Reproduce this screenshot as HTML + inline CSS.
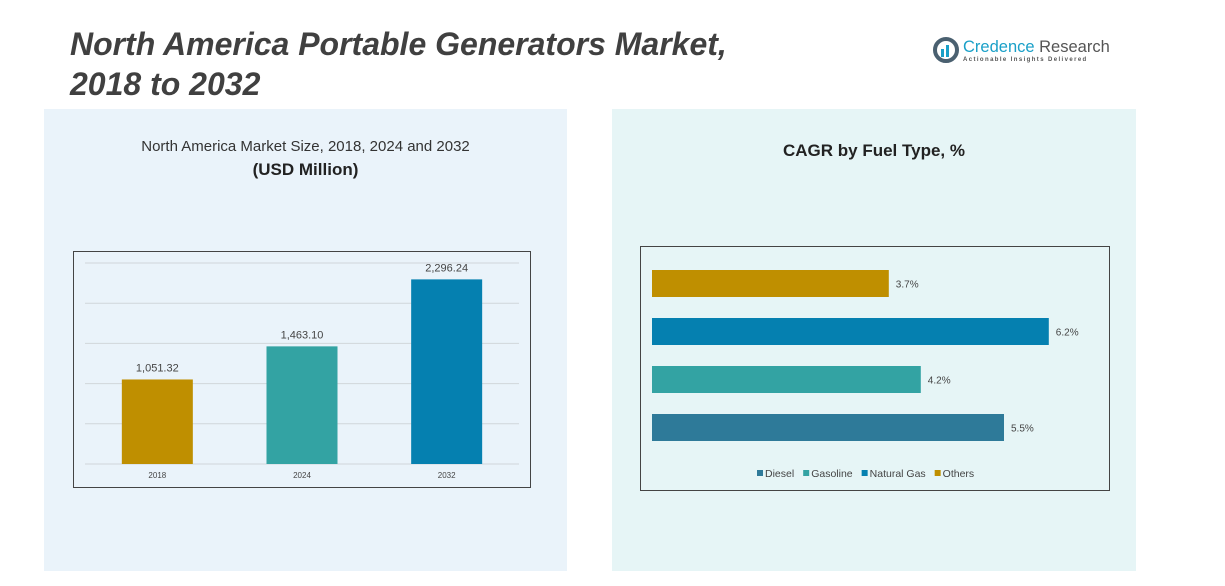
<!DOCTYPE html>
<html><head><meta charset="utf-8"><style>
body{margin:0;width:1225px;height:586px;background:#fff;overflow:hidden;font-family:"Liberation Sans",sans-serif;position:relative}
.abs{position:absolute}
</style></head><body>
<div class="abs" style="left:70px;top:24px;font-size:32px;font-weight:bold;font-style:italic;color:#404040;line-height:40px">North America Portable Generators Market,<br>2018 to 2032</div>
<div class="abs" style="left:932px;top:36px;display:flex;align-items:center">
 <svg width="28" height="28"><circle cx="14" cy="14" r="11" fill="none" stroke="#4a6070" stroke-width="4"/><rect x="9" y="13" width="3" height="8" fill="#1aa0c8"/><rect x="14" y="9" width="3" height="12" fill="#1aa0c8"/></svg>
 <div style="margin-left:3px"><div style="font-size:16.5px;color:#555"><span style="color:#1aa0c8">Credence</span> Research</div><div style="font-size:6px;letter-spacing:1.4px;color:#555;font-weight:bold">Actionable Insights Delivered</div></div>
</div>
<div class="abs" style="left:44px;top:109px;width:523px;height:462px;background:#eaf3fa"></div>
<div class="abs" style="left:612px;top:109px;width:524px;height:462px;background:#e6f5f6"></div>
<div class="abs" style="left:44px;top:138px;width:523px;text-align:center;font-size:15px;color:#333">North America Market Size, 2018, 2024 and 2032</div>
<div class="abs" style="left:44px;top:160px;width:523px;text-align:center;font-size:17px;font-weight:bold;color:#222">(USD Million)</div>
<div class="abs" style="left:612px;top:141px;width:524px;text-align:center;font-size:17px;font-weight:bold;color:#222">CAGR by Fuel Type, %</div>
<svg class="abs" style="left:0;top:0" width="1225" height="586" id="svg">
<rect x="73.5" y="251.5" width="457" height="236" fill="none" stroke="#444"/>
<rect x="640.5" y="246.5" width="469" height="244" fill="none" stroke="#444"/>
<g id="left"></g><g id="right"></g>
</svg>
<script>
const years=["2018","2024","2032"];
const sizes=[1051.32,1463.10,2296.24];
const sizeColors=["#BF8F00","#33A3A3","#0580B0"];
const gridTicks=[0,500,1000,1500,2000,2500];
const fuels=["Others","Natural Gas","Gasoline","Diesel"];
const cagr=[3.7,6.2,4.2,5.5];
const fuelColors=["#BF8F00","#0580B0","#33A3A3","#2E7A99"];
const legendOrder=["Diesel","Gasoline","Natural Gas","Others"];
const legendColors=["#2E7A99","#33A3A3","#0580B0","#BF8F00"];
const NS="http://www.w3.org/2000/svg";
function mk(t,a,p){const e=document.createElementNS(NS,t);for(const k in a)e.setAttribute(k,a[k]);p.appendChild(e);return e;}
const L=document.getElementById('left'),R=document.getElementById('right');
const y0=464,y1=263,x0=85,x1=519;
const ys=v=>y0-(v/2500)*(y0-y1);
const band=(x1-x0)/years.length;
gridTicks.forEach(t=>{const g=mk('line',{x1:x0,x2:x1,y1:ys(t),y2:ys(t),stroke:"#d0d6da","stroke-width":1},L);

});
years.forEach((y,i)=>{const cx=x0+band*(i+.5),w=71;
const b=mk('rect',{x:cx-w/2,y:ys(sizes[i]),width:w,height:y0-ys(sizes[i]),fill:sizeColors[i]},L);


const v=mk('text',{x:cx,y:ys(sizes[i])-8,"text-anchor":"middle","font-size":11,fill:"#444"},L);v.textContent=sizes[i].toLocaleString('en-US',{minimumFractionDigits:2});


const l=mk('text',{x:cx,y:478,"text-anchor":"middle","font-size":8,fill:"#444"},L);l.textContent=y;

});
const rx0=652,pxPer=64,top0=270,step=48,bh=27;
fuels.forEach((f,i)=>{const y=top0+i*step,w=cagr[i]*pxPer;
const b=mk('rect',{x:rx0,y:y,width:w,height:bh,fill:fuelColors[i]},R);


const t=mk('text',{x:rx0+w+7,y:y+bh/2+4,"font-size":10,fill:"#444"},R);t.textContent=cagr[i]+"%";

});
let lx=757;
legendOrder.forEach((n,i)=>{const s=mk('rect',{x:lx,y:470,width:6,height:6,fill:legendColors[i]},R);


const t=mk('text',{x:lx+8,y:477,"font-size":10.5,fill:"#444"},R);t.textContent=n;


lx+=8+t.getComputedTextLength()+9;});
</script>
</body></html>
